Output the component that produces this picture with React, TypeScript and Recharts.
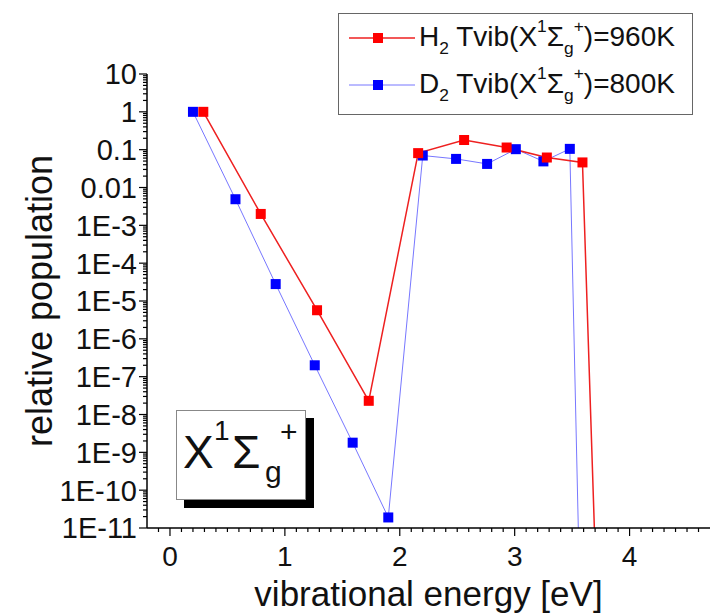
import React from 'react';
import { LineChart, Line, XAxis, YAxis, Legend, Label } from 'recharts';

const FONT = '"Liberation Sans", Arial, Helvetica, sans-serif';

// H2 series (vibrational energy [eV], relative population)
const h2Energy = [0.29, 0.79, 1.28, 1.73, 2.16, 2.56, 2.93, 3.28, 3.59, 3.79];
const h2Population = [1, 2.0e-3, 5.7e-6, 2.3e-8, 0.081, 0.18, 0.114, 0.062, 0.046, 1e-20];

// D2 series
const d2Energy = [0.2, 0.57, 0.92, 1.26, 1.59, 1.9, 2.2, 2.49, 2.76, 3.01, 3.25, 3.48, 3.62];
const d2Population = [1, 4.9e-3, 2.8e-5, 2.0e-7, 1.8e-9, 1.9e-11, 0.07, 0.057, 0.042, 0.103, 0.049, 0.105, 1e-20];

// axes
const xDomain = [-0.2, 4.7];
const xMajorTicks = [0, 1, 2, 3, 4];
const yDomain = [1e-11, 10];
const yMajorTicks = [10, 1, 0.1, 0.01, 1e-3, 1e-4, 1e-5, 1e-6, 1e-7, 1e-8, 1e-9, 1e-10, 1e-11];
const yTickLabels = ['10', '1', '0.1', '0.01', '1E-3', '1E-4', '1E-5', '1E-6', '1E-7', '1E-8', '1E-9', '1E-10', '1E-11'];
const yExponents = [-11, -10, -9, -8, -7, -6, -5, -4, -3, -2, -1, 0];
const yMinorMantissas = [2, 3, 4, 5, 6, 7, 8, 9];

const seriesNames = ['H2 Tvib(X1Σg+)=960K', 'D2 Tvib(X1Σg+)=800K'];

const h2Data = h2Energy.map((x, i) => ({ x, y: h2Population[i] }));
const d2Data = d2Energy.map((x, i) => ({ x, y: d2Population[i] }));

const xMinorTicks: number[] = [];
for (let i = -1; i <= 46; i++) {
  if (i % 10 !== 0) xMinorTicks.push(Math.round(i) / 10);
}
const xAllTicks = [...xMajorTicks, ...xMinorTicks].sort((a, b) => a - b);

const yMinorTicks: number[] = [];
yExponents.forEach((e) => yMinorMantissas.forEach((m) => yMinorTicks.push(m * Math.pow(10, e))));
const yAllTicks = [...yMajorTicks, ...yMinorTicks].sort((a, b) => a - b);

const isXMajor = (v: number) => xMajorTicks.some((t) => Math.abs(t - v) < 1e-9);
const yMajorIndex = (v: number) => yMajorTicks.findIndex((t) => Math.abs(t - v) / t < 1e-6);

const BottomTick = (props: any) => {
  const { x, y, payload } = props;
  const major = isXMajor(payload.value);
  return (
    <g>
      <line x1={x} x2={x} y1={y} y2={y + (major ? 8 : 4)} stroke="#000" strokeWidth={1.2} />
      {major && (
        <text x={x} y={y + 38} textAnchor="middle" fontSize={28} fontFamily={FONT} fill="#111">
          {String(payload.value)}
        </text>
      )}
    </g>
  );
};

const TopTick = (props: any) => {
  const { x, y, payload } = props;
  const major = isXMajor(payload.value);
  return <line x1={x} x2={x} y1={y} y2={y - (major ? 8 : 4)} stroke="#000" strokeWidth={1.2} />;
};

const LeftTick = (props: any) => {
  const { x, y, payload } = props;
  const idx = yMajorIndex(payload.value);
  const major = idx >= 0;
  return (
    <g>
      <line x1={x} x2={x - (major ? 8 : 4)} y1={y} y2={y} stroke="#000" strokeWidth={1.2} />
      {major && (
        <text x={x - 10} y={y} dy="0.36em" textAnchor="end" fontSize={29} fontFamily={FONT} fill="#111">
          {yTickLabels[idx]}
        </text>
      )}
    </g>
  );
};

const RightTick = (props: any) => {
  const { x, y, payload } = props;
  const major = yMajorIndex(payload.value) >= 0;
  return <line x1={x} x2={x + (major ? 8 : 4)} y1={y} y2={y} stroke="#000" strokeWidth={1.2} />;
};

const makeDot = (color: string, size: number) => (props: any) => {
  const { cx, cy, index } = props;
  if (cx == null || cy == null || !isFinite(cx) || !isFinite(cy)) return <g key={index} />;
  return <rect key={index} x={cx - size / 2} y={cy - size / 2} width={size} height={size} fill={color} />;
};

const Sub = ({ children }: any) => (
  <span style={{ fontSize: '0.62em', position: 'relative', top: '0.5em' }}>{children}</span>
);
const Sup = ({ children }: any) => (
  <span style={{ fontSize: '0.62em', position: 'relative', top: '-0.75em' }}>{children}</span>
);

const legendRows = [
  { mol: 'H', temp: '960K', line: '#ee2020', marker: '#ff0000', width: 1.5 },
  { mol: 'D', temp: '800K', line: '#7777ff', marker: '#0000ff', width: 1 },
];

const LegendContent = () => (
  <div
    style={{
      width: 355,
      height: 102,
      boxSizing: 'border-box',
      border: '1.5px solid #666',
      background: '#fff',
      fontFamily: FONT,
      position: 'relative',
      color: '#111',
    }}
  >
    {legendRows.map((r, i) => (
      <div
        key={i}
        title={seriesNames[i]}
        style={{ position: 'absolute', left: 0, top: i === 0 ? 4 : 51, height: 40, display: 'flex', alignItems: 'center' }}
      >
        <svg width={80} height={40} style={{ display: 'block' }}>
          <line x1={10} x2={76} y1={20} y2={20} stroke={r.line} strokeWidth={r.width} />
          <rect x={34} y={15} width={10} height={10} fill={r.marker} />
        </svg>
        <span style={{ fontSize: 28, whiteSpace: 'nowrap', lineHeight: '40px' }}>
          {r.mol}
          <Sub>2</Sub> Tvib(X<Sup>1</Sup>Σ<Sub>g</Sub>
          <Sup>+</Sup>)={r.temp}
        </span>
      </div>
    ))}
  </div>
);

const XTitle = (props: any) => {
  const vb = props.viewBox || { x: 147, y: 528, width: 563, height: 86 };
  return (
    <text x={vb.x + vb.width / 2} y={606} textAnchor="middle" fontSize={35} fontFamily={FONT} fill="#111">
      vibrational energy [eV]
    </text>
  );
};

const YTitle = (props: any) => {
  const vb = props.viewBox || { x: 0, y: 74, width: 147, height: 454 };
  const cy = vb.y + vb.height / 2;
  return (
    <text
      x={52}
      y={cy}
      transform={`rotate(-90, 52, ${cy})`}
      textAnchor="middle"
      fontSize={36}
      fontFamily={FONT}
      fill="#111"
    >
      relative population
    </text>
  );
};

export default function App() {
  return (
    <div style={{ position: 'absolute', left: 0, top: 0, width: 716, height: 614, background: '#fff' }}>
      <LineChart width={716} height={614} margin={{ top: 74, right: 6, bottom: 0, left: 0 }}>
        <XAxis
          xAxisId="bottom"
          orientation="bottom"
          dataKey="x"
          type="number"
          domain={xDomain}
          allowDataOverflow
          ticks={xAllTicks}
          interval={0}
          tickSize={0}
          tickMargin={0}
          tickLine={false}
          height={86}
          axisLine={{ stroke: '#000', strokeWidth: 1.5 }}
          tick={BottomTick}
        >
          <Label content={XTitle} />
        </XAxis>
        <XAxis
          xAxisId="top"
          orientation="top"
          dataKey="x"
          type="number"
          domain={xDomain}
          allowDataOverflow
          ticks={xAllTicks}
          interval={0}
          tickSize={0}
          tickMargin={0}
          tickLine={false}
          height={0}
          axisLine={{ stroke: '#000', strokeWidth: 1.5 }}
          tick={TopTick}
        />
        <YAxis
          yAxisId="left"
          orientation="left"
          type="number"
          scale="log"
          domain={yDomain}
          allowDataOverflow
          ticks={yAllTicks}
          interval={0}
          tickSize={0}
          tickMargin={0}
          tickLine={false}
          width={147}
          axisLine={{ stroke: '#000', strokeWidth: 1.5 }}
          tick={LeftTick}
        >
          <Label content={YTitle} />
        </YAxis>
        <YAxis
          yAxisId="right"
          orientation="right"
          type="number"
          scale="log"
          domain={yDomain}
          allowDataOverflow
          ticks={yAllTicks}
          interval={0}
          tickSize={0}
          tickMargin={0}
          tickLine={false}
          width={0}
          axisLine={{ stroke: '#000', strokeWidth: 1.5 }}
          tick={RightTick}
        />
        <Line
          xAxisId="bottom"
          yAxisId="left"
          data={d2Data}
          dataKey="y"
          name={seriesNames[1]}
          stroke="#7777ff"
          strokeWidth={1}
          dot={makeDot('#0000ff', 10)}
          activeDot={false}
          isAnimationActive={false}
        />
        <Line
          xAxisId="bottom"
          yAxisId="left"
          data={h2Data}
          dataKey="y"
          name={seriesNames[0]}
          stroke="#ee2020"
          strokeWidth={1.5}
          dot={makeDot('#ff0000', 10)}
          activeDot={false}
          isAnimationActive={false}
        />
        <Legend
          layout="horizontal"
          verticalAlign="middle"
          align="center"
          content={LegendContent}
          wrapperStyle={{ position: 'absolute', left: 338, top: 13, width: 355, height: 102 }}
        />
      </LineChart>
      <div
        style={{
          position: 'absolute',
          left: 176,
          top: 410,
          width: 130,
          height: 90,
          boxSizing: 'border-box',
          border: '1px solid #888',
          background: '#fff',
          boxShadow: '8px 8px 0 #000',
        }}
      >
        <svg width={130} height={90} style={{ display: 'block', position: 'absolute', left: -1, top: -1 }}>
          <text x={7} y={58} fontSize={46} fontFamily={FONT} fill="#111">X</text>
          <text x={38} y={30} fontSize={28} fontFamily={FONT} fill="#111">1</text>
          <text x={56} y={58} fontSize={46} fontFamily={FONT} fill="#111">Σ</text>
          <text x={89} y={72} fontSize={30} fontFamily={FONT} fill="#111">g</text>
          <text x={104} y={32} fontSize={30} fontFamily={FONT} fill="#111">+</text>
        </svg>
      </div>
    </div>
  );
}
